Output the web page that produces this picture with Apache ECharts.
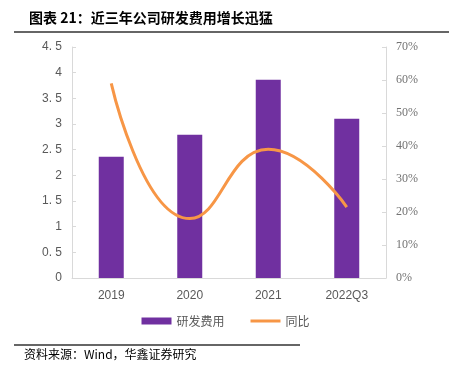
<!DOCTYPE html>
<html><head><meta charset="utf-8">
<script src="https://cdn.jsdelivr.net/npm/echarts@6/dist/echarts.min.js"></script>
<style>html,body{margin:0;padding:0;background:#fff}#c{width:451px;height:374px}</style>
</head><body><div id="c"></div>
<script>
const categories = ['2019','2020','2021','2022Q3'];
const rdExpense = [2.36, 2.79, 3.86, 3.10];
const yoyGrowth = [59, 18, 39, 21.5];
const leftTicks = [0, 0.5, 1, 1.5, 2, 2.5, 3, 3.5, 4, 4.5];
const rightTicks = [0, 10, 20, 30, 40, 50, 60, 70];

const chart = echarts.init(document.getElementById('c'));
chart.setOption({
  animation: false,
  title: {
    text: '图表 21：近三年公司研发费用增长迅猛',
    left: 24, top: 6,
    textStyle: {fontFamily: 'Noto Sans CJK SC', fontSize: 14, fontWeight: 'bold', color: '#000'}
  },
  graphic: [
    {type: 'line', shape: {x1: 14, y1: 32, x2: 449, y2: 32}, style: {stroke: '#333', lineWidth: 1.5}},
    {type: 'line', shape: {x1: 14, y1: 345, x2: 300, y2: 345}, style: {stroke: '#333', lineWidth: 1.5}},
    {type: 'text', left: 24, top: 348, style: {text: '资料来源：Wind，华鑫证券研究', font: '12px "Noto Sans CJK SC"', fill: '#000'}}
  ],
  legend: {
    bottom: 42, left: 'center',
    itemWidth: 30, itemHeight: 7, itemGap: 26,
    textStyle: {fontFamily: 'Noto Sans CJK SC', fontSize: 12, color: '#595959'},
    data: [{name: '研发费用', icon: 'rect'}, {name: '同比', icon: 'path://M0,0 L30,0 L30,3 L0,3 Z'}]
  },
  grid: {left: 72, right: 65, top: 47, bottom: 96},
  xAxis: {
    type: 'category', data: categories,
    axisLine: {lineStyle: {color: '#d9d9d9'}},
    axisTick: {show: false},
    axisLabel: {color: '#595959', fontFamily: 'Liberation Sans', fontSize: 12, margin: 12}
  },
  yAxis: [
    {
      type: 'value', min: leftTicks[0], max: leftTicks[leftTicks.length-1], interval: 0.5,
      axisLine: {show: true, lineStyle: {color: '#d9d9d9'}},
      axisTick: {show: true, inside: true, length: 4, lineStyle: {color: '#d9d9d9'}},
      splitLine: {show: false},
      axisLabel: {color: '#595959', fontFamily: 'Liberation Sans', fontSize: 12, margin: 10,
        formatter: v => String(v).replace('.', '. ')}
    },
    {
      type: 'value', min: rightTicks[0], max: rightTicks[rightTicks.length-1], interval: 10,
      axisLine: {show: true, lineStyle: {color: '#d9d9d9'}},
      axisTick: {show: true, length: 4, inside: true, lineStyle: {color: '#d9d9d9'}},
      splitLine: {show: false},
      axisLabel: {color: '#737373', fontFamily: 'Liberation Serif', fontSize: 12, margin: 10,
        formatter: v => v + '%'}
    }
  ],
  series: [
    {name: '研发费用', type: 'bar', data: rdExpense, barWidth: 25, itemStyle: {color: '#7030A0'}},
    {name: '同比', type: 'line', yAxisIndex: 1, data: yoyGrowth, smooth: true, showSymbol: false,
      symbol: 'none', lineStyle: {color: '#F79646', width: 3}, itemStyle: {color: '#F79646'}}
  ]
});
</script></body></html>
